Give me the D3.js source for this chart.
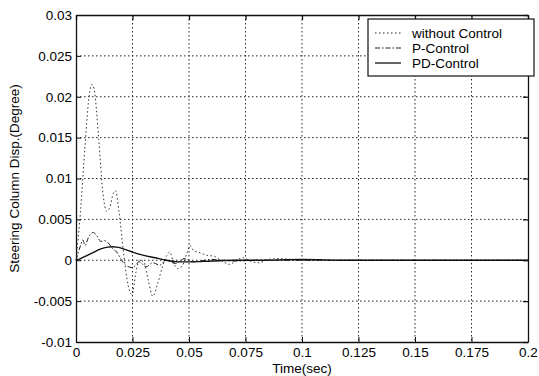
<!DOCTYPE html>
<html><head><meta charset="utf-8">
<script src="https://cdn.jsdelivr.net/npm/d3@7"></script>
<style>body{margin:0;background:#fff;} text{font-family:"Liberation Sans",Arial,sans-serif;fill:#000;}</style>
</head><body><svg id="c" width="539" height="376"></svg>
<script>
const xTicks = [0,0.025,0.05,0.075,0.1,0.125,0.15,0.175,0.2];
const xTickLabels = ["0","0.025","0.05","0.075","0.1","0.125","0.15","0.175","0.2"];
const yTicks = [-0.01,-0.005,0,0.005,0.01,0.015,0.02,0.025,0.03];
const yTickLabels = ["-0.01","-0.005","0","0.005","0.01","0.015","0.02","0.025","0.03"];
const seriesNames = ["without Control","P-Control","PD-Control"];

const tWithout = [0,0.002,0.004,0.006,0.007,0.008,0.010,0.012,0.0135,0.015,0.0165,0.0175,0.019,0.021,0.023,0.0248,0.0265,0.028,0.030,0.032,0.034,0.036,0.038,0.040,0.0416,0.043,0.045,0.047,0.0495,0.0505,0.052,0.055,0.058,0.061,0.064,0.068,0.071,0.074,0.078,0.081,0.085,0.09,0.095,0.1,0.2];
const yWithout = [0,0.006,0.014,0.0205,0.0215,0.021,0.015,0.008,0.006,0.0065,0.0082,0.0085,0.006,0.001,-0.003,-0.0042,-0.0015,0.0,-0.0002,-0.0025,-0.0044,-0.003,-0.001,0.0005,0.001,-0.0002,-0.001,-0.0007,0.0012,0.0018,0.0012,0.0009,0.0006,0.0005,0.0,-0.0005,0.0,0.0003,-0.0002,-0.0003,0.0001,0.0002,0.0001,0.0,0.0];

const tP = [0,0.002,0.003,0.004,0.0055,0.0075,0.009,0.011,0.0125,0.014,0.016,0.018,0.020,0.022,0.025,0.028,0.031,0.034,0.037,0.040,0.044,0.048,0.052,0.06,0.07,0.08,0.1,0.2];
const yP = [0,0.0018,0.0025,0.0018,0.0028,0.0034,0.0031,0.0023,0.0024,0.0022,0.0015,0.001,0.0001,-0.0006,-0.0009,-0.0002,-0.0008,-0.0003,-0.0006,0.0,-0.0004,0.0002,-0.0002,0.0001,-0.0001,0.0,0.0,0.0];

const tPD = [0,0.002,0.005,0.008,0.011,0.014,0.016,0.018,0.021,0.025,0.03,0.035,0.04,0.045,0.05,0.06,0.07,0.08,0.1,0.12,0.15,0.2];
const yPD = [0,0.0002,0.0006,0.001,0.0014,0.0016,0.00165,0.0016,0.0014,0.001,0.0006,0.0003,0.0,-0.0002,-0.0002,-0.0001,0.0,0.0,0.0001,0.0,0.0,0.0];

const svg = d3.select("#c");
const m = {l:76, r:528, t:15, b:342};
const x = d3.scaleLinear().domain([0,0.2]).range([m.l,m.r]);
const y = d3.scaleLinear().domain([-0.01,0.03]).range([m.b,m.t]);

const g = svg.append("g");
g.selectAll(".gx").data(xTicks.slice(1,-1)).enter().append("line")
 .attr("x1",d=>x(d)).attr("x2",d=>x(d)).attr("y1",m.t).attr("y2",m.b)
 .attr("stroke","#222").attr("stroke-width",1).attr("stroke-dasharray","1.5,2.5");
g.selectAll(".gy").data(yTicks.slice(1,-1)).enter().append("line")
 .attr("y1",d=>y(d)).attr("y2",d=>y(d)).attr("x1",m.l).attr("x2",m.r)
 .attr("stroke","#222").attr("stroke-width",1).attr("stroke-dasharray","1.5,2.5");

const xa = d3.axisBottom(x).tickValues(xTicks).tickFormat((d,i)=>xTickLabels[i]).tickSizeInner(-5).tickSizeOuter(0).tickPadding(5);
const ya = d3.axisLeft(y).tickValues(yTicks).tickFormat((d,i)=>yTickLabels[i]).tickSizeInner(-5).tickSizeOuter(0).tickPadding(4);
const xg = svg.append("g").attr("transform",`translate(0,${m.b})`).call(xa);
const yg = svg.append("g").attr("transform",`translate(${m.l},0)`).call(ya);
[xg,yg].forEach(a=>{a.select(".domain").attr("stroke","#111").attr("stroke-width",1.3);
 a.selectAll(".tick line").attr("stroke","#111");
 a.selectAll("text").style("font-family","'Liberation Sans',Arial,sans-serif").style("font-size","13.5px").attr("fill","#000");});
const xtop = d3.axisTop(x).tickValues(xTicks).tickFormat("").tickSizeInner(-5).tickSizeOuter(0);
const yright = d3.axisRight(y).tickValues(yTicks).tickFormat("").tickSizeInner(-5).tickSizeOuter(0);
svg.append("g").attr("transform",`translate(0,${m.t})`).call(xtop).selectAll("path,line").attr("stroke","#111").attr("stroke-width",1.3);
svg.append("g").attr("transform",`translate(${m.r},0)`).call(yright).selectAll("path,line").attr("stroke","#111").attr("stroke-width",1.3);

const line = (ts)=>d3.line().x((d,i)=>x(ts[i])).y(d=>y(d)).curve(d3.curveMonotoneX);
svg.append("path").datum(yWithout).attr("d",line(tWithout)).attr("fill","none")
 .attr("stroke","#333").attr("stroke-width",1).attr("stroke-dasharray","1.5,2.5");
svg.append("path").datum(yP).attr("d",line(tP)).attr("fill","none")
 .attr("stroke","#222").attr("stroke-width",1).attr("stroke-dasharray","5,2,1.5,2");
svg.append("path").datum(yPD).attr("d",line(tPD)).attr("fill","none")
 .attr("stroke","#111").attr("stroke-width",1.4);

svg.append("text").attr("x",(m.l+m.r)/2).attr("y",373).attr("text-anchor","middle").style("font-size","13.5px").text("Time(sec)");
svg.append("text").attr("transform",`translate(19,${(m.t+m.b)/2}) rotate(-90)`).attr("text-anchor","middle").style("font-size","13.5px").text("Steering Column Disp.(Degree)");

const lg = svg.append("g");
lg.append("rect").attr("x",368).attr("y",19).attr("width",166).attr("height",57).attr("fill","#fff").attr("stroke","#111").attr("stroke-width",1.2);
const dashes = ["1.5,2.5","5,2,1.5,2",null];
const widths = [1,1,1.4];
seriesNames.forEach((n,i)=>{
  const yy = 33 + i*15;
  const l = lg.append("line").attr("x1",375).attr("x2",401).attr("y1",yy).attr("y2",yy).attr("stroke","#222").attr("stroke-width",widths[i]);
  if (dashes[i]) l.attr("stroke-dasharray",dashes[i]);
  lg.append("text").attr("x",412).attr("y",yy+5).style("font-size","13.5px").text(n);
});
</script></body></html>
